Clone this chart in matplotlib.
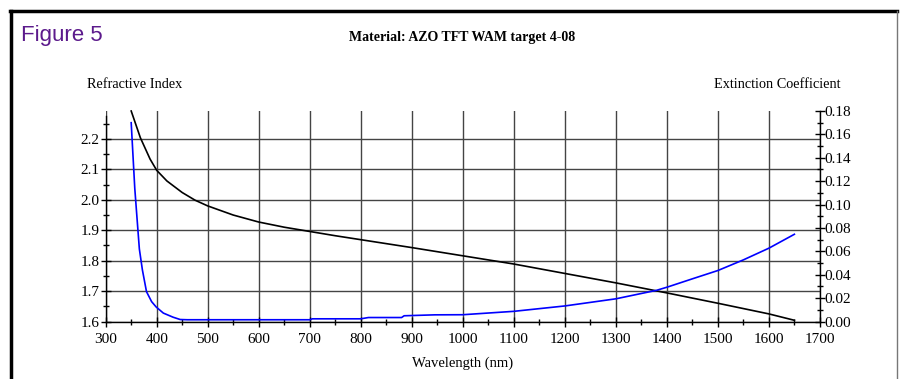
import matplotlib
matplotlib.use('Agg')
import matplotlib.pyplot as plt
from matplotlib.lines import Line2D
from matplotlib.ticker import MultipleLocator

# refractive index (black, left axis)
wl_n = [350, 368, 387, 400, 420, 450, 475, 500, 550, 600, 650, 700, 750, 800,
        900, 1000, 1100, 1200, 1300, 1400, 1500, 1600, 1650]
n_vals = [2.292, 2.204, 2.134, 2.097, 2.062, 2.024, 1.999, 1.980, 1.950, 1.927,
          1.910, 1.896, 1.882, 1.869, 1.843, 1.816, 1.789, 1.758, 1.727, 1.694,
          1.660, 1.625, 1.604]

# extinction coefficient (blue, right axis)
wl_k = [350, 357, 362, 366, 372, 380, 390, 399, 413, 432, 446, 460, 500, 600,
        700, 705, 800, 815, 880, 885, 945, 1000, 1100, 1200, 1300, 1380, 1400,
        1450, 1500, 1550, 1600, 1650]
k_vals = [0.170, 0.114, 0.085, 0.062, 0.044, 0.0255, 0.017, 0.0124, 0.0072,
          0.0037, 0.0017, 0.0015, 0.0015, 0.0015, 0.0015, 0.0023, 0.0023,
          0.0034, 0.0034, 0.0049, 0.0057, 0.0058, 0.0087, 0.0133, 0.0194,
          0.0267, 0.0293, 0.0365, 0.0436, 0.0527, 0.0627, 0.0746]

serif = 'Liberation Serif'

fig = plt.figure(figsize=(9.01, 3.79), dpi=100)
ax = fig.add_axes([0.1173, 0.1517, 0.7927, 0.5554])
ax2 = ax.twinx()

ax.set_xlim(300, 1700)
ax.set_ylim(1.6, 2.292)
ax2.set_ylim(0, 0.18)

# grid
ax.xaxis.set_major_locator(MultipleLocator(100))
ax.xaxis.set_minor_locator(MultipleLocator(50))
ax.yaxis.set_major_locator(MultipleLocator(0.1))
ax.yaxis.set_minor_locator(MultipleLocator(0.05))
ax2.yaxis.set_major_locator(MultipleLocator(0.02))
ax2.yaxis.set_minor_locator(MultipleLocator(0.01))
ax.grid(True, which='major', color='#444444', lw=1.0)
ax.set_axisbelow(True)

ax.plot(wl_n, n_vals, color='black', lw=1.2, clip_on=False, zorder=3)
ax2.plot(wl_k, k_vals, color='#0000ff', lw=1.2, zorder=3)

for a in (ax, ax2):
    a.spines['top'].set_visible(False)
    for s in a.spines.values():
        s.set_linewidth(1.0)
ax.spines['right'].set_visible(False)
ax2.spines['left'].set_visible(False)
ax2.spines['bottom'].set_visible(False)
ax.spines['left'].set_bounds(1.6, 2.274)

ax.tick_params(axis='both', which='major', direction='inout', length=7, width=1,
               labelsize=11)
ax.tick_params(axis='x', which='major', pad=5)
ax.tick_params(axis='y', which='major', pad=1)
ax.tick_params(axis='both', which='minor', direction='inout', length=5, width=1)
ax2.tick_params(axis='y', which='major', direction='inout', length=7, width=1,
                labelsize=11, pad=0)
ax2.tick_params(axis='y', which='minor', direction='inout', length=5, width=1)
ax.yaxis.set_major_formatter(plt.FuncFormatter(lambda v, p: f"{v:.1f}" if v < 2.25 else ""))
ax2.yaxis.set_major_formatter(plt.FuncFormatter(lambda v, p: f"{v:.2f}"))
for lab in ax.get_xticklabels() + ax.get_yticklabels() + ax2.get_yticklabels():
    lab.set_fontfamily(serif)

ax.set_xlabel('Wavelength (nm)', fontsize=10.5, fontfamily=serif, labelpad=7)

fig.text(87 / 901, 1 - 85 / 379, 'Refractive Index', fontsize=10.3, fontfamily=serif,
         va='center', ha='left')
fig.text(840 / 901, 1 - 85 / 379, 'Extinction Coefficient', fontsize=10.3,
         fontfamily=serif, va='center', ha='right')
fig.text(462 / 901, 1 - 37 / 379, 'Material: AZO TFT WAM target 4-08', fontsize=10,
         fontweight='bold', fontfamily=serif, va='center', ha='center')
fig.text(21 / 901, 1 - 36 / 379, 'Figure 5', fontsize=16, color='#5c1a8c',
         fontfamily=['Liberation Sans Narrow', 'Liberation Sans'], va='center', ha='left')

# page frame
fig.add_artist(Line2D([10.5 / 901, 10.5 / 901], [0, 1 - 10.5 / 379], color='black',
                      lw=2.5, transform=fig.transFigure))
fig.add_artist(Line2D([9.5 / 901, 897 / 901], [1 - 10.5 / 379, 1 - 10.5 / 379],
                      color='black', lw=2.5, transform=fig.transFigure))
fig.add_artist(Line2D([897 / 901, 897 / 901], [0, 1 - 10.5 / 379], color='#777777',
                      lw=1, transform=fig.transFigure))

fig.savefig('out.png', dpi=100)
